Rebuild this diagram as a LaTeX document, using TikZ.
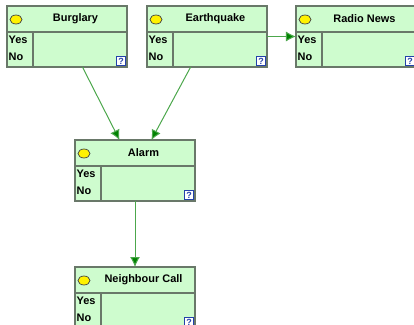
\documentclass[tikz,border=0pt]{standalone}
\usepackage{fontspec}
\setmainfont{Liberation Sans}
\usetikzlibrary{calc,arrows.meta}
\definecolor{cptfill}{RGB}{206,252,206}
\definecolor{cptline}{RGB}{105,120,105}
\definecolor{linkgreen}{RGB}{0,130,0}
\definecolor{qblue}{RGB}{35,65,170}

\begin{document}
\begin{tikzpicture}[x=1bp, y=-1bp, font=\fontsize{11}{13}\selectfont\bfseries,
  cpt/.style={draw=cptline, fill=cptfill, line width=1.2bp, minimum width=120bp,
    minimum height=61bp, inner sep=0pt, outer sep=0pt},
  link/.style={draw=linkgreen!70, line width=1bp,
    -{Latex[length=10bp,width=10bp,fill=linkgreen]}}]
  \useasboundingbox (0,0) rectangle (414,325);
  \clip (0,0) rectangle (414,325);
  % variable boxes
  \node[cpt] (B) at (67,36.5) {};
  \node[cpt] (E) at (207,36.5) {};
  \node[cpt] (R) at (356,36.5) {};
  \node[cpt] (A) at (135,170.5) {};
  \node[cpt] (N) at (135,297.5) {};
  % header, states and the small icon
  \foreach \n/\lbl in {B/Burglary, E/Earthquake, R/Radio News, A/Alarm, N/Neighbour Call}{
    \draw[cptline, line width=1.2bp] ($(\n.north west)+(0,26)$) -- ($(\n.north east)+(0,26)$);
    \draw[cptline, line width=1.2bp] ($(\n.north west)+(26,26)$) -- ($(\n.south west)+(26,0)$);
    \draw[fill=yellow, draw=black!75, line width=0.7bp] ($(\n.north west)+(9,13.5)$) ellipse (6 and 4.5);
    \node (\n t) at ($(\n.north west)+(68.5,13)$) {\lbl};
    \node[anchor=west, inner sep=1bp] (\n y) at ($(\n.north west)+(0.5,34)$) {Yes};
    \node[anchor=west, inner sep=1bp] (\n n) at ($(\n.north west)+(0.5,51)$) {No};
    \draw[qblue, fill=white, line width=1bp] ($(\n.south east)+(-10.5,-10.5)$) rectangle ($(\n.south east)+(-1.5,-1.5)$);
    \node[qblue, font=\fontsize{9}{9}\selectfont\bfseries, inner sep=0pt] (\n q) at ($(\n.south east)+(-6,-6)$) {?};
  }
  % links
  \draw[link] (B) -- (A);
  \draw[link] (E) -- (A);
  \draw[link] (E) -- (R);
  \draw[link] (A) -- (N);
\end{tikzpicture}
\end{document}
